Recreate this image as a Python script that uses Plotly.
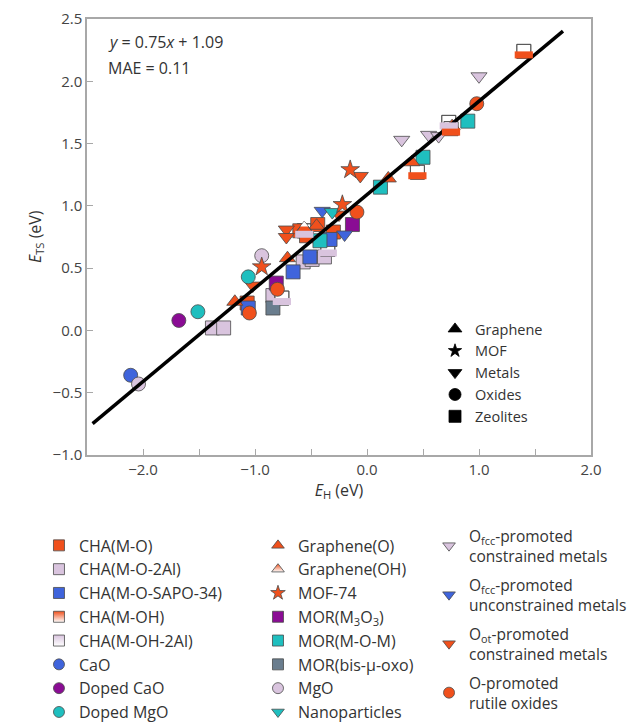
import plotly.graph_objects as go

# ---------------- data (E_H, E_TS) ----------------
cha_mo_x = [-1.07, -0.60, -0.54, -0.44, -0.30]
cha_mo_y = [0.22, 0.80, 0.76, 0.85, 0.79]
cha_mo2al_x = [-1.38, -1.28, -0.84, -0.57, -0.49, -0.38]
cha_mo2al_y = [0.02, 0.02, 0.28, 0.55, 0.57, 0.59]
cha_sapo_x = [-1.06, -0.66, -0.51, -0.33]
cha_sapo_y = [0.18, 0.47, 0.59, 0.73]
cha_moh_x = [0.45, 0.75, 1.40]
cha_moh_y = [1.27, 1.62, 2.24]
cha_moh2al_x = [-0.76, -0.56, -0.35, 0.73]
cha_moh2al_y = [0.26, 0.80, 0.65, 1.67]
cao_x = [-2.11]
cao_y = [-0.36]
doped_cao_x = [-1.68]
doped_cao_y = [0.08]
doped_mgo_x = [-1.51, -1.06]
doped_mgo_y = [0.15, 0.43]
graphene_o_x = [-1.18, -0.71, -0.45, 0.19, 0.40, 0.76]
graphene_o_y = [0.23, 0.58, 0.84, 1.22, 1.35, 1.64]
graphene_oh_x = [-0.56]
graphene_oh_y = [0.82]
mof74_x = [-0.94, -0.22, -0.15]
mof74_y = [0.51, 1.01, 1.29]
mor_m3o3_x = [-0.81, -0.13]
mor_m3o3_y = [0.38, 0.85]
mor_mom_x = [-0.42, 0.12, 0.50, 0.90]
mor_mom_y = [0.72, 1.15, 1.39, 1.68]
mor_bis_x = [-0.84]
mor_bis_y = [0.18]
mgo_x = [-2.04, -0.94]
mgo_y = [-0.43, 0.60]
nano_x = [-0.31]
nano_y = [0.95]
ofcc_con_x = [0.31, 0.55, 0.64, 1.00]
ofcc_con_y = [1.53, 1.57, 1.56, 2.04]
ofcc_uncon_x = [-0.40, -0.20]
ofcc_uncon_y = [0.96, 0.77]
oot_con_x = [-1.02, -0.72, -0.72, -0.25, -0.06]
oot_con_y = [0.36, 0.81, 0.75, 0.93, 1.24]
rutile_x = [-1.05, -0.80, -0.09, 0.98]
rutile_y = [0.14, 0.33, 0.95, 1.82]

fit_slope = 0.75
fit_intercept = 1.09
fit_x_ends = [-2.45, 1.75]
mae = 0.11

x_range = [-2.5, 2.0]
y_range = [-1.0, 2.5]

# ---------------- styles ----------------
FONT = "Open Sans"
TXT = "#333333"
ORANGE = "#F0501C"
LAV = "#D9C4DE"
BLUE = "#3F64DC"
PURPLE = "#8A0C94"
TEAL = "#1FBFBF"
SLATE = "#6A7D8E"
EDGE = "#4A4A4A"
AXC = "#A8A8A8"
MS = 14
PX_PER_Y = 436 / 3.5
SHIFT = 3.5 / PX_PER_Y  # data-unit equivalent of a few pixels for half-filled glyphs

fig = go.Figure()


def pts(x, y, symbol, color, size=MS, yaxis="y"):
    fig.add_trace(go.Scatter(
        x=x, y=y, mode="markers", showlegend=False, hoverinfo="skip", yaxis=yaxis,
        marker=dict(symbol=symbol, size=size, color=color, line=dict(color=EDGE, width=0.8))))


def half_square(x, y, bottom_color):
    pts(x, y, "square", "white")
    fig.add_trace(go.Scatter(
        x=x, y=y, mode="markers", showlegend=False, hoverinfo="skip", yaxis="y2",
        marker=dict(symbol="line-ew", size=MS - 1, color=bottom_color,
                    line=dict(color=bottom_color, width=MS / 2))))
    fig.add_trace(go.Scatter(
        x=x, y=y, mode="markers", showlegend=False, hoverinfo="skip",
        marker=dict(symbol="square-open", size=MS, color=EDGE, line=dict(width=0.8))))


def half_triangle(x, y, color):
    pts(x, y, "triangle-up", color)
    fig.add_trace(go.Scatter(
        x=x, y=y, mode="markers", showlegend=False, hoverinfo="skip", yaxis="y3",
        marker=dict(symbol="triangle-up", size=MS / 2, color="white", line=dict(width=0))))
    fig.add_trace(go.Scatter(
        x=x, y=y, mode="markers", showlegend=False, hoverinfo="skip",
        marker=dict(symbol="triangle-up-open", size=MS, color=EDGE, line=dict(width=0.8))))


# zeolites
pts(cha_mo2al_x, cha_mo2al_y, "square", LAV)
half_square(cha_moh2al_x, cha_moh2al_y, LAV)
pts(mor_bis_x, mor_bis_y, "square", SLATE)
pts(mor_m3o3_x, mor_m3o3_y, "square", PURPLE)
pts(cha_mo_x, cha_mo_y, "square", ORANGE)
pts(cha_sapo_x, cha_sapo_y, "square", BLUE)
half_square(cha_moh_x, cha_moh_y, ORANGE)
pts(mor_mom_x, mor_mom_y, "square", TEAL)
# graphene
pts(graphene_o_x, graphene_o_y, "triangle-up", ORANGE)
half_triangle(graphene_oh_x, graphene_oh_y, ORANGE)
# metals
pts(oot_con_x, oot_con_y, "triangle-down", ORANGE)
pts(ofcc_con_x, ofcc_con_y, "triangle-down", LAV)
pts(ofcc_uncon_x, ofcc_uncon_y, "triangle-down", BLUE)
pts(nano_x, nano_y, "triangle-down", TEAL)
# oxides
pts(cao_x, cao_y, "circle", BLUE)
pts(mgo_x, mgo_y, "circle", LAV)
pts(doped_cao_x, doped_cao_y, "circle", PURPLE)
pts(doped_mgo_x, doped_mgo_y, "circle", TEAL)
pts(rutile_x, rutile_y, "circle", ORANGE)
# MOF
pts(mof74_x, mof74_y, "star", ORANGE, size=14)

# fit line
fit_y = [fit_slope * v + fit_intercept for v in fit_x_ends]
fig.add_trace(go.Scatter(x=fit_x_ends, y=fit_y, mode="lines", showlegend=False,
                         hoverinfo="skip", line=dict(color="black", width=3.5)))


# ---------------- legend-only entries ----------------
def leg(name, symbol, color, legend, size=11, gradient=None, group=None, edge=EDGE):
    m = dict(symbol=symbol, color=color, size=size, line=dict(color=edge, width=0.8))
    if gradient:
        m["gradient"] = dict(type="vertical", color=gradient)
    fig.add_trace(go.Scatter(x=[None], y=[None], mode="markers", name=name, marker=m,
                             legend=legend, showlegend=True, hoverinfo="skip",
                             legendgroup=group))


col1 = [("CHA(M-O)", "square", ORANGE, None), ("CHA(M-O-2Al)", "square", LAV, None),
        ("CHA(M-O-SAPO-34)", "square", BLUE, None), ("CHA(M-OH)", "square", ORANGE, "white"),
        ("CHA(M-OH-2Al)", "square", LAV, "white"), ("CaO", "circle", BLUE, None),
        ("Doped CaO", "circle", PURPLE, None), ("Doped MgO", "circle", TEAL, None)]
col2 = [("Graphene(O)", "triangle-up", ORANGE, None), ("Graphene(OH)", "triangle-up", ORANGE, "white"),
        ("MOF-74", "star", ORANGE, None), ("MOR(M<sub>3</sub>O<sub>3</sub>)", "square", PURPLE, None),
        ("MOR(M-O-M)", "square", TEAL, None), ("MOR(bis-μ-oxo)", "square", SLATE, None),
        ("MgO", "circle", LAV, None), ("Nanoparticles", "triangle-down", TEAL, None)]
col3 = [("O<sub>fcc</sub>-promoted<br>constrained metals", "triangle-down", LAV),
        ("O<sub>fcc</sub>-promoted<br>unconstrained metals", "triangle-down", BLUE),
        ("O<sub>ot</sub>-promoted<br>constrained metals", "triangle-down", ORANGE),
        ("O-promoted<br>rutile oxides", "circle", ORANGE)]
shape_legend = [("Graphene", "triangle-up", 12), ("MOF", "star", 10), ("Metals", "triangle-down", 12),
                ("Oxides", "circle", 12), ("Zeolites", "square", 12)]

for n, s, c, g in col1:
    leg(n, s, c, "legend", gradient=g)
for n, s, c, g in col2:
    leg(n, s, c, "legend2", gradient=g)
for i, (n, s, c) in enumerate(col3):
    leg(n, s, c, "legend3", group="g%d" % i)
for n, s, sz in shape_legend:
    leg(n, s, "black", "legend4", size=sz, edge="black")

# ---------------- layout ----------------
def bottom_leg(fs):
    return dict(xanchor="left", yanchor="top", bgcolor="rgba(0,0,0,0)",
                xref="container", yref="container",
                font=dict(family=FONT, size=fs, color=TXT))


fig.update_layout(
    width=627, height=716, autosize=False,
    margin=dict(l=79, r=44, t=11, b=269, autoexpand=False),
    paper_bgcolor="white", plot_bgcolor="white",
    font=dict(family=FONT, color=TXT, size=15),
    xaxis=dict(range=x_range, dtick=1, tick0=0, tickformat=".1f", automargin=True,
               ticks="inside", ticklen=6, tickcolor=AXC,
               minor=dict(dtick=0.5, ticks="inside", ticklen=6, tickcolor=AXC),
               showline=True, linecolor=AXC, linewidth=1.5, mirror=True,
               showgrid=False, zeroline=False,
               tickfont=dict(size=15, color="#444"),
               title=dict(text="<i>E</i><sub>H</sub> (eV)", standoff=3,
                          font=dict(size=16, color=TXT))),
    yaxis=dict(range=y_range, dtick=0.5, tickformat=".1f", automargin=True,
               ticks="inside", ticklen=6, tickcolor=AXC,
               showline=True, linecolor=AXC, linewidth=1.5, mirror=True,
               showgrid=False, zeroline=False,
               tickfont=dict(size=15, color="#444")),
    yaxis2=dict(range=[y_range[0] + SHIFT, y_range[1] + SHIFT], overlaying="y",
                visible=False, anchor="x"),
    yaxis3=dict(range=[y_range[0] - MS / 4 / PX_PER_Y, y_range[1] - MS / 4 / PX_PER_Y],
                overlaying="y", visible=False, anchor="x"),
    legend=dict(x=0.0494, y=0.2731, traceorder="normal", **bottom_leg(16)),
    legend2=dict(x=0.3987, y=0.2731, traceorder="normal", **bottom_leg(16)),
    legend3=dict(x=0.6715, y=0.2863, tracegroupgap=5.7, **bottom_leg(15.5)),
    legend4=dict(x=0.6905, y=0.3257, traceorder="normal", xanchor="left", yanchor="top",
                 bgcolor="rgba(0,0,0,0)", font=dict(family=FONT, size=14.5, color=TXT)),
    showlegend=True,
)

# y-axis title
fig.add_annotation(xref="paper", yref="paper", x=-0.103, y=0.5, xanchor="center",
                   yanchor="middle", showarrow=False, textangle=-90,
                   text="<i>E</i><sub>TS</sub> (eV)", font=dict(family=FONT, size=16, color=TXT))
fig.add_annotation(xref="paper", yref="paper", x=0.038, y=0.947, xanchor="left",
                   yanchor="middle", showarrow=False,
                   text="<i>y</i> = %.2f<i>x</i> + %.2f" % (fit_slope, fit_intercept),
                   font=dict(family=FONT, size=16, color=TXT))
fig.add_annotation(xref="paper", yref="paper", x=0.038, y=0.888, xanchor="left",
                   yanchor="middle", showarrow=False, text="MAE = %.2f" % mae,
                   font=dict(family=FONT, size=16, color=TXT))

fig.write_html("out.html")
